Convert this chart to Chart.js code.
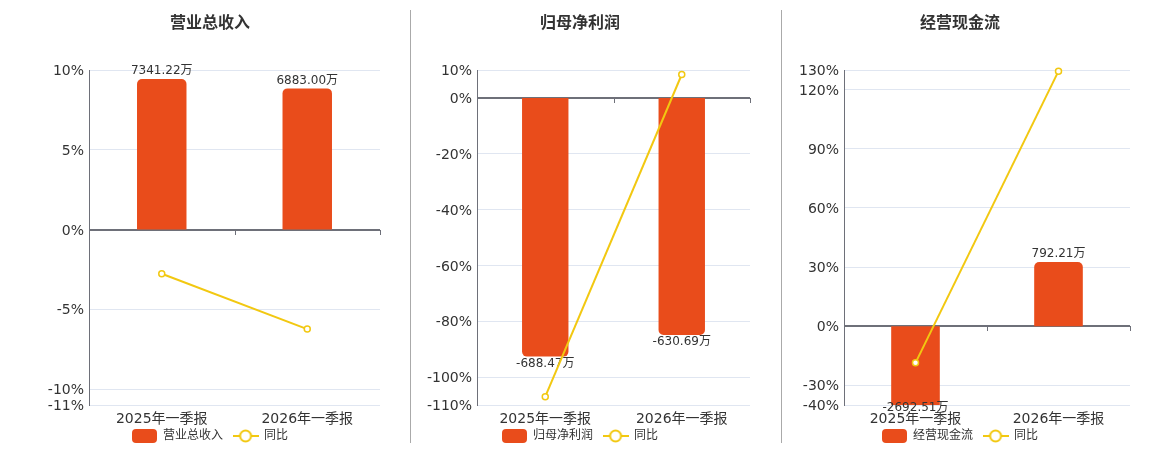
<!DOCTYPE html>
<html>
<head>
<meta charset="utf-8">
<script src="https://cdn.jsdelivr.net/npm/chart.js@4.4.0/dist/chart.umd.min.js"></script>
<style>
  body { margin: 0; background: #fff; }
  .box { position: absolute; top: 0; height: 450px; }
  .sep { position: absolute; top: 10px; height: 433px; width: 1px; background: #aaa; }
</style>
</head>
<body>
<div class="box" style="left:40px;width:370px"><canvas id="c0"></canvas></div>
<div class="box" style="left:410px;width:371px"><canvas id="c1"></canvas></div>
<div class="box" style="left:790px;width:370px"><canvas id="c2"></canvas></div>
<div class="sep" style="left:410px"></div>
<div class="sep" style="left:781px"></div>
<script>
const categories = ['2025年一季报', '2026年一季报'];
const titles = ['营业总收入', '归母净利润', '经营现金流'];
const yoyLabel = '同比';

const revenue = [7341.22, 6883.00];
const revenueYoy = [-2.77, -6.24];
const profit = [-688.47, -630.69];
const profitYoy = [-107.0, 8.39];
const cashflow = [-2692.51, 792.21];
const cashflowYoy = [-18.6, 129.42];

const revenueTicks = [10, 5, 0, -5, -10, -11];
const profitTicks = [10, 0, -20, -40, -60, -80, -100, -110];
const cashflowTicks = [130, 120, 90, 60, 30, 0, -30, -40];

// 万 per 1% on the hidden bar axis
const barScale = [778, 7.43, 24.37];

const BAR = '#e94c1b';
const LINE = '#f2c811';

Chart.defaults.font.family = '"DejaVu Sans", "Noto Sans CJK SC", sans-serif';
Chart.defaults.color = '#333';

function boxIcon(color) {
  const c = document.createElement('canvas');
  c.width = 25; c.height = 14;
  const g = c.getContext('2d');
  g.fillStyle = color;
  g.beginPath();
  g.roundRect(0, 0, 25, 14, 4);
  g.fill();
  return c;
}
function lineIcon(color) {
  const c = document.createElement('canvas');
  c.width = 26; c.height = 14;
  const g = c.getContext('2d');
  g.strokeStyle = color;
  g.lineWidth = 2;
  g.beginPath(); g.moveTo(0, 7); g.lineTo(26, 7); g.stroke();
  g.fillStyle = '#fff';
  g.beginPath(); g.arc(13, 7, 5.5, 0, Math.PI * 2); g.fill(); g.stroke();
  return c;
}

// zero axis line with category ticks, and bar value labels
const axisPlugin = {
  id: 'zeroAxis',
  afterLayout(chart) {
    // let the category labels draw below the (thin) axis box
    const x = chart.scales.x;
    x.bottom = x.top + 28;
    x.height = 28;
  },
  beforeDatasetsDraw(chart) {
    const {ctx, chartArea: a, scales: {x, y}} = chart;
    const y0 = Math.round(y.getPixelForValue(0));
    ctx.save();
    ctx.strokeStyle = '#6e7079';
    ctx.lineWidth = 2;
    ctx.beginPath(); ctx.moveTo(a.left, y0); ctx.lineTo(a.right, y0); ctx.stroke();
    ctx.lineWidth = 1;
    for (let i = 0; i <= chart.data.labels.length; i++) {
      const px = Math.round(x.getPixelForValue(i - 0.5)) + 0.5;
      ctx.beginPath(); ctx.moveTo(px, y0); ctx.lineTo(px, y0 + 5); ctx.stroke();
    }
    ctx.restore();
  },
  afterDatasetDraw(chart, args) {
    const ds = chart.data.datasets[args.index];
    if (ds.type !== 'bar') return;
    const {ctx, chartArea: a} = chart;
    ctx.save();
    ctx.font = '12px "DejaVu Sans", "Noto Sans CJK SC", sans-serif';
    ctx.fillStyle = '#333';
    ctx.textAlign = 'center';
    ctx.textBaseline = 'middle';
    args.meta.data.forEach((bar, i) => {
      const v = ds.data[i];
      const yy = v >= 0 ? bar.y - 8 : Math.min(bar.y, a.bottom - 4) + 7;
      ctx.fillText(v.toFixed(2) + '万', bar.x, yy);
    });
    ctx.restore();
  }
};

function makeChart(id, idx, bars, yoy, ticks, yw, pr) {
  const tmin = Math.min(...ticks), tmax = Math.max(...ticks);
  const k = barScale[idx];
  new Chart(document.getElementById(id), {
    plugins: [axisPlugin],
    data: {
      labels: categories,
      datasets: [
        {
          type: 'line', label: yoyLabel, data: yoy, yAxisID: 'y', order: 0, clip: false,
          borderColor: LINE, borderWidth: 2, tension: 0,
          pointRadius: 3, pointBackgroundColor: '#fff', pointBorderColor: LINE, pointBorderWidth: 1.5
        },
        {
          type: 'bar', label: titles[idx], data: bars, yAxisID: 'y1', order: 1,
          backgroundColor: BAR, borderRadius: 5, borderSkipped: 'start',
          barPercentage: 0.34, categoryPercentage: 1
        }
      ]
    },
    options: {
      responsive: true, maintainAspectRatio: false, animation: false,
      layout: { padding: { left: 0, right: pr, top: 0, bottom: 0 } },
      plugins: {
        tooltip: { enabled: false },
        title: {
          display: true, text: titles[idx], color: '#333',
          font: { size: 16, weight: 'bold' },
          padding: { top: 14, bottom: 36.8 }
        },
        legend: {
          position: 'bottom', maxHeight: 30,
          labels: {
            usePointStyle: true, pointStyleWidth: 25, padding: 10,
            font: { size: 12 }, color: '#333',
            generateLabels: () => [
              { text: titles[idx], pointStyle: boxIcon(BAR), fillStyle: BAR, strokeStyle: BAR, lineWidth: 0, fontColor: '#333', hidden: false, datasetIndex: 1 },
              { text: yoyLabel, pointStyle: lineIcon(LINE), fillStyle: LINE, strokeStyle: LINE, lineWidth: 0, fontColor: '#333', hidden: false, datasetIndex: 0 }
            ]
          }
        }
      },
      scales: {
        x: {
          grid: { display: false, drawTicks: false },
          border: { display: false },
          ticks: { color: '#333', font: { size: 14 }, padding: 6 },
          afterFit: s => { s.height = 15; }
        },
        y: {
          min: tmin, max: tmax,
          afterBuildTicks: s => { s.ticks = ticks.slice().sort((a, b) => a - b).map(v => ({ value: v })); },
          afterFit: s => { s.width = yw; },
          grid: { color: c => (c.tick && c.tick.value === 0 ? 'rgba(0,0,0,0)' : '#e0e6f1'), drawTicks: false },
          border: { color: '#6e7079', width: 1 },
          ticks: { color: '#333', font: { size: 14 }, padding: 5, labelOffset: 1.5, callback: v => v + '%' }
        },
        y1: {
          display: false,
          min: tmin * k, max: tmax * k
        }
      }
    }
  });
}

makeChart('c0', 0, revenue, revenueYoy, revenueTicks, 49, 30);
makeChart('c1', 1, profit, profitYoy, profitTicks, 67, 31);
makeChart('c2', 2, cashflow, cashflowYoy, cashflowTicks, 54, 30);
</script>
</body>
</html>
